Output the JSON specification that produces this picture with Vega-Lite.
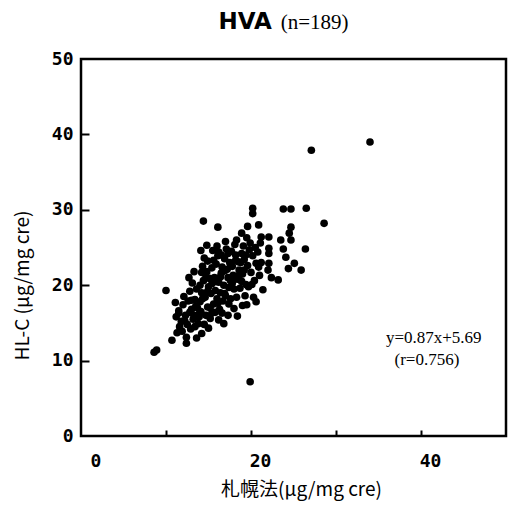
{
  "$schema": "https://vega.github.io/schema/vega-lite/v6.json",
  "autosize": {"type": "none"},
  "width": 425,
  "height": 377,
  "padding": {"left": 81, "top": 59, "right": 2, "bottom": 69},
  "background": "white",
  "config": {
    "view": {"stroke": "black", "strokeWidth": 2.5},
    "axis": {"grid": false, "domain": false}
  },
  "resolve": {"axis": {"x": "independent", "y": "independent"}},
  "datasets": {
    "pts": [
      {"x": 11.2, "y": 15.8}, {"x": 11.5, "y": 16.6}, {"x": 11.8, "y": 15.2}, {"x": 12.0, "y": 17.4}, {"x": 11.6, "y": 14.5},
      {"x": 12.3, "y": 16.0}, {"x": 12.1, "y": 18.5}, {"x": 11.9, "y": 13.9}, {"x": 12.5, "y": 14.8}, {"x": 12.6, "y": 17.9},
      {"x": 12.8, "y": 19.2}, {"x": 13.0, "y": 16.8}, {"x": 13.2, "y": 15.5}, {"x": 12.9, "y": 14.2}, {"x": 13.4, "y": 18.1},
      {"x": 13.1, "y": 20.3}, {"x": 13.5, "y": 17.2}, {"x": 13.3, "y": 16.0}, {"x": 12.7, "y": 21.0}, {"x": 13.6, "y": 19.5},
      {"x": 13.8, "y": 14.9}, {"x": 13.9, "y": 15.8}, {"x": 14.0, "y": 17.8}, {"x": 14.2, "y": 19.0}, {"x": 14.4, "y": 20.6},
      {"x": 14.1, "y": 16.5}, {"x": 14.6, "y": 18.4}, {"x": 14.8, "y": 21.8}, {"x": 14.3, "y": 22.5}, {"x": 14.9, "y": 17.1},
      {"x": 15.0, "y": 19.8}, {"x": 15.2, "y": 15.6}, {"x": 14.7, "y": 16.0}, {"x": 15.3, "y": 18.9}, {"x": 15.1, "y": 20.9},
      {"x": 14.5, "y": 23.6}, {"x": 15.4, "y": 22.3}, {"x": 15.6, "y": 17.5}, {"x": 15.8, "y": 19.3}, {"x": 15.7, "y": 21.0},
      {"x": 16.0, "y": 18.2}, {"x": 16.2, "y": 20.4}, {"x": 15.9, "y": 22.8}, {"x": 16.4, "y": 19.0}, {"x": 16.1, "y": 23.9},
      {"x": 16.3, "y": 16.8}, {"x": 16.5, "y": 21.6}, {"x": 15.5, "y": 24.6}, {"x": 16.6, "y": 22.4}, {"x": 16.0, "y": 25.2},
      {"x": 15.8, "y": 16.4}, {"x": 16.8, "y": 20.0}, {"x": 17.0, "y": 18.6}, {"x": 17.2, "y": 22.1}, {"x": 16.9, "y": 23.5},
      {"x": 17.4, "y": 19.7}, {"x": 17.1, "y": 24.8}, {"x": 17.3, "y": 21.0}, {"x": 16.7, "y": 17.9}, {"x": 17.5, "y": 23.0},
      {"x": 17.6, "y": 20.6}, {"x": 17.0, "y": 25.8}, {"x": 17.4, "y": 17.5}, {"x": 17.8, "y": 22.5}, {"x": 18.0, "y": 19.5},
      {"x": 18.2, "y": 24.0}, {"x": 17.9, "y": 21.3}, {"x": 18.4, "y": 20.8}, {"x": 18.1, "y": 25.4}, {"x": 18.3, "y": 18.4},
      {"x": 18.5, "y": 23.1}, {"x": 17.7, "y": 24.5}, {"x": 18.6, "y": 22.0}, {"x": 18.0, "y": 16.9}, {"x": 18.7, "y": 19.6},
      {"x": 18.9, "y": 24.2}, {"x": 19.0, "y": 21.5}, {"x": 19.2, "y": 23.4}, {"x": 19.4, "y": 20.1}, {"x": 19.1, "y": 25.2},
      {"x": 19.6, "y": 22.6}, {"x": 19.8, "y": 24.7}, {"x": 19.3, "y": 18.6}, {"x": 19.7, "y": 19.8}, {"x": 20.0, "y": 21.7},
      {"x": 20.2, "y": 23.9}, {"x": 19.9, "y": 25.6}, {"x": 20.4, "y": 20.6}, {"x": 20.6, "y": 22.9}, {"x": 20.8, "y": 24.4},
      {"x": 21.0, "y": 21.3}, {"x": 20.5, "y": 25.0}, {"x": 21.2, "y": 23.0}, {"x": 21.4, "y": 19.4}, {"x": 20.3, "y": 18.4},
      {"x": 21.1, "y": 25.6}, {"x": 13.6, "y": 13.0}, {"x": 14.2, "y": 13.6}, {"x": 15.0, "y": 14.3}, {"x": 16.2, "y": 15.4},
      {"x": 17.3, "y": 16.0}, {"x": 18.4, "y": 15.9}, {"x": 19.5, "y": 17.4}, {"x": 20.6, "y": 17.8}, {"x": 12.4, "y": 12.3},
      {"x": 14.5, "y": 14.8}, {"x": 16.8, "y": 14.9},
      {"x": 8.6, "y": 11.1}, {"x": 8.9, "y": 11.4}, {"x": 10.7, "y": 12.7}, {"x": 11.3, "y": 13.7}, {"x": 12.4, "y": 13.1},
      {"x": 11.1, "y": 17.7}, {"x": 10.0, "y": 19.3}, {"x": 11.5, "y": 16.3}, {"x": 14.4, "y": 28.5}, {"x": 16.1, "y": 27.7},
      {"x": 14.1, "y": 24.6}, {"x": 14.9, "y": 23.2}, {"x": 14.2, "y": 21.7}, {"x": 16.2, "y": 24.4}, {"x": 19.9, "y": 7.2},
      {"x": 34.0, "y": 39.0}, {"x": 27.1, "y": 37.9}, {"x": 20.2, "y": 30.2}, {"x": 20.2, "y": 29.5}, {"x": 23.8, "y": 30.1},
      {"x": 24.7, "y": 30.1}, {"x": 26.5, "y": 30.2}, {"x": 28.6, "y": 28.2}, {"x": 19.6, "y": 27.8}, {"x": 20.9, "y": 28.0},
      {"x": 18.9, "y": 26.9}, {"x": 24.7, "y": 27.7}, {"x": 24.5, "y": 26.9}, {"x": 24.7, "y": 26.0}, {"x": 21.2, "y": 26.4},
      {"x": 22.1, "y": 26.4}, {"x": 23.5, "y": 26.0}, {"x": 26.4, "y": 24.8}, {"x": 22.1, "y": 24.9}, {"x": 23.8, "y": 24.8},
      {"x": 24.1, "y": 23.7}, {"x": 25.1, "y": 22.9}, {"x": 24.4, "y": 22.2}, {"x": 25.9, "y": 22.0}, {"x": 22.1, "y": 24.2},
      {"x": 22.1, "y": 22.9}, {"x": 22.0, "y": 22.0}, {"x": 22.4, "y": 21.0}, {"x": 23.2, "y": 20.7},
      {"x": 13.0, "y": 18.0}, {"x": 13.7, "y": 17.0}, {"x": 14.3, "y": 18.2}, {"x": 14.9, "y": 19.2}, {"x": 15.4, "y": 20.2},
      {"x": 15.9, "y": 20.5}, {"x": 16.4, "y": 21.1}, {"x": 16.9, "y": 21.9}, {"x": 17.6, "y": 22.7}, {"x": 18.2, "y": 23.3},
      {"x": 18.8, "y": 23.0}, {"x": 19.4, "y": 24.0}, {"x": 15.2, "y": 17.0}, {"x": 16.1, "y": 17.6}, {"x": 16.9, "y": 18.9},
      {"x": 17.8, "y": 20.3}, {"x": 18.6, "y": 21.3}, {"x": 19.2, "y": 22.0}, {"x": 14.0, "y": 20.0}, {"x": 14.7, "y": 21.1},
      {"x": 15.6, "y": 23.3}, {"x": 16.5, "y": 24.0}, {"x": 17.3, "y": 24.2}, {"x": 18.3, "y": 26.0}, {"x": 19.5, "y": 26.3},
      {"x": 12.2, "y": 15.3}, {"x": 12.8, "y": 16.4}, {"x": 13.4, "y": 14.5}, {"x": 13.9, "y": 16.2}, {"x": 15.4, "y": 16.3},
      {"x": 16.6, "y": 16.3}, {"x": 17.6, "y": 18.2}, {"x": 18.9, "y": 20.5}, {"x": 20.1, "y": 20.1}, {"x": 13.3, "y": 21.8},
      {"x": 14.8, "y": 25.3}, {"x": 19.0, "y": 17.3}, {"x": 20.9, "y": 22.4}
    ],
    "notes": [
      {"x": 19.3, "y": 54.0, "label": "HVA", "kind": "title"},
      {"x": 23.5, "y": 54.0, "label": "(n=189)", "kind": "n"},
      {"x": 41.5, "y": 12.3, "label": "y=0.87x+5.69", "kind": "eq"},
      {"x": 40.7, "y": 9.4, "label": "(r=0.756)", "kind": "eq"}
    ]
  },
  "layer": [
    {
      "data": {"name": "pts"},
      "mark": {"type": "circle", "color": "black", "opacity": 1, "size": 58},
      "encoding": {
        "x": {
          "field": "x", "type": "quantitative",
          "scale": {"domain": [0, 50], "nice": false},
          "axis": {
            "values": [0, 20, 40],
            "ticks": false,
            "labelFont": "DejaVu Sans Mono", "labelFontWeight": "bold", "labelFontSize": 18,
            "labelColor": "black", "labelPadding": 16, "labelOffset": 9,
            "title": "札幌法(μg/mg cre)",
            "titleFont": "Noto Sans CJK JP", "titleFontWeight": "normal", "titleFontSize": 19,
            "titleColor": "black", "titlePadding": 10, "titleX": 220
          }
        },
        "y": {
          "field": "y", "type": "quantitative",
          "scale": {"domain": [0, 50], "nice": false},
          "axis": {
            "values": [0, 10, 20, 30, 40, 50],
            "ticks": false,
            "labelFont": "DejaVu Sans Mono", "labelFontWeight": "bold", "labelFontSize": 18,
            "labelColor": "black", "labelPadding": 8,
            "title": "HL-C (μg/mg cre)",
            "titleFont": "Noto Sans CJK JP", "titleFontWeight": "normal", "titleFontSize": 19,
            "titleColor": "black", "titleX": -59, "titleY": 226,
            "titleAlign": "center", "titleBaseline": "middle", "titleAngle": -90
          }
        }
      }
    },
    {
      "data": {"name": "notes"},
      "transform": [{"filter": "datum.kind == 'title'"}],
      "mark": {"type": "text", "font": "DejaVu Sans", "fontWeight": "bold", "fontSize": 23, "align": "center", "baseline": "alphabetic", "color": "black"},
      "encoding": {
        "x": {"field": "x", "type": "quantitative", "axis": null},
        "y": {"field": "y", "type": "quantitative", "axis": null},
        "text": {"field": "label"}
      }
    },
    {
      "data": {"name": "notes"},
      "transform": [{"filter": "datum.kind == 'n'"}],
      "mark": {"type": "text", "font": "Liberation Serif", "fontSize": 21, "align": "left", "baseline": "alphabetic", "color": "black"},
      "encoding": {
        "x": {"field": "x", "type": "quantitative", "axis": null},
        "y": {"field": "y", "type": "quantitative", "axis": null},
        "text": {"field": "label"}
      }
    },
    {
      "data": {"name": "notes"},
      "transform": [{"filter": "datum.kind == 'eq'"}],
      "mark": {"type": "text", "font": "Liberation Serif", "fontSize": 17, "align": "center", "baseline": "alphabetic", "color": "black"},
      "encoding": {
        "x": {
          "field": "x", "type": "quantitative",
          "axis": {"orient": "top", "offset": -377, "values": [10, 20, 30, 40], "labels": false, "title": null, "domain": false, "grid": false, "ticks": true, "tickSize": 6, "tickWidth": 2, "tickColor": "black"}
        },
        "y": {
          "field": "y", "type": "quantitative",
          "axis": {"orient": "right", "offset": -425, "values": [10, 20, 30, 40], "labels": false, "title": null, "domain": false, "grid": false, "ticks": true, "tickSize": 8, "tickWidth": 2, "tickColor": "black"}
        },
        "text": {"field": "label"}
      }
    }
  ]
}
